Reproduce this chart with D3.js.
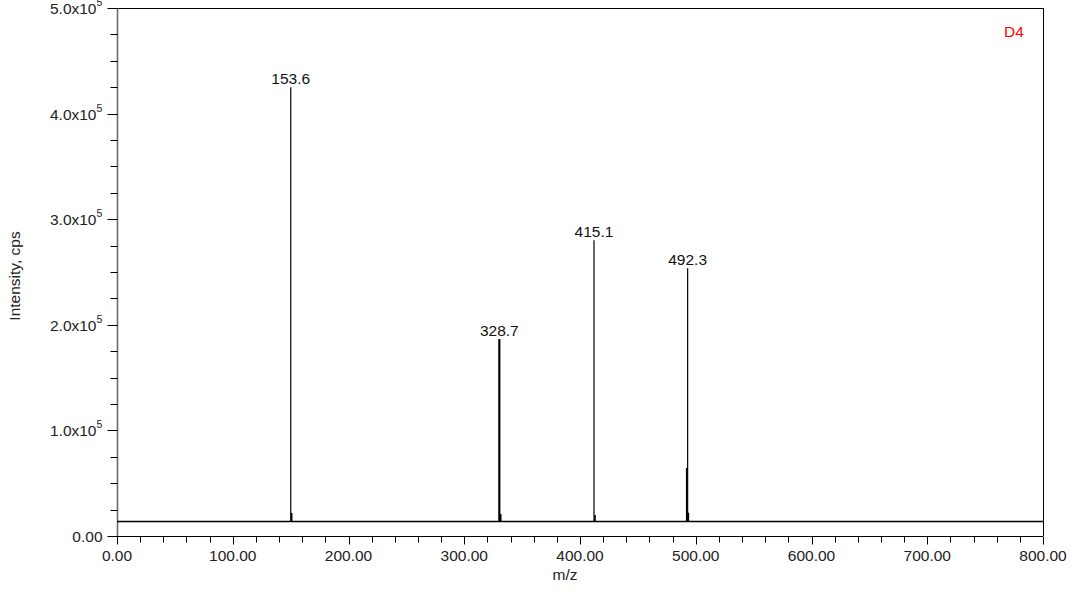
<!DOCTYPE html>
<html><head><meta charset="utf-8">
<script src="https://cdn.jsdelivr.net/npm/d3@7"></script>
<style>body{margin:0;background:#fff;} text{font-family:"Liberation Sans",Arial,sans-serif;}</style>
</head><body><svg id="c" width="1087" height="593"></svg>
<script>
// Main peaks (m/z position as drawn, intensity in cps) and their labels
const peakMz = [150.1, 330.3, 412.1, 493.0];
const peakIntensity = [425000, 186500, 280000, 253500];
const peakLabels = ["153.6", "328.7", "415.1", "492.3"];
// Small shoulder peaks near the main ones
const minorMz = [150.9, 331.5, 413.0, 492.2, 493.6];
const minorIntensity = [21800, 20800, 19900, 64400, 22000];
const baselineIntensity = 14200;
const xTicks = [0, 100, 200, 300, 400, 500, 600, 700, 800];
const yTicks = [0, 100000, 200000, 300000, 400000, 500000];
const yTickLabels = ["0.00", "1.0x10", "2.0x10", "3.0x10", "4.0x10", "5.0x10"];
const sampleName = "D4";

const svg = d3.select("#c");
const L = 117, R = 1043, T = 8, B = 536;
const FS = 15.5;
const x = d3.scaleLinear().domain([0, 800]).range([L, R]);
const y = d3.scaleLinear().domain([0, 500000]).range([B, T]);

// frame top/right
svg.append("line").attr("x1", L).attr("x2", R).attr("y1", T + 0.5).attr("y2", T + 0.5).attr("stroke", "#000");
svg.append("line").attr("x1", R + 0.5).attr("x2", R + 0.5).attr("y1", T).attr("y2", B).attr("stroke", "#000");

// x axis
const xa = svg.append("g").attr("transform", `translate(0,${B + 0.5})`);
xa.append("line").attr("x1", L).attr("x2", R).attr("stroke", "#000");
d3.range(0, 801, 20).forEach(v => {
  const major = v % 100 === 0;
  xa.append("line").attr("x1", Math.round(x(v)) + 0.5).attr("x2", Math.round(x(v)) + 0.5)
    .attr("y1", 0).attr("y2", major ? 8 : 6).attr("stroke", "#000");
});
xa.selectAll("text.xt").data(xTicks).enter().append("text").attr("class", "xt")
  .attr("x", d => x(d)).attr("y", 24.5).attr("text-anchor", "middle")
  .attr("font-size", FS).attr("fill", "#222").text(d => d3.format(".2f")(d));

// y axis
const ya = svg.append("g").attr("transform", `translate(${L + 0.5},0)`);
ya.append("line").attr("y1", T).attr("y2", B).attr("stroke", "#666").attr("stroke-width", 1.5);
d3.range(0, 500001, 25000).forEach(v => {
  const major = v % 100000 === 0;
  ya.append("line").attr("y1", Math.round(y(v)) + 0.5).attr("y2", Math.round(y(v)) + 0.5)
    .attr("x1", major ? -10 : -7).attr("x2", 0).attr("stroke", "#000");
});
yTicks.forEach((v, i) => {
  ya.append("text").attr("x", v === 0 ? -15 : -21).attr("y", y(v) + 6)
    .attr("text-anchor", "end").attr("font-size", FS).attr("fill", "#222").text(yTickLabels[i]);
  if (v !== 0) {
    ya.append("text").attr("x", -21).attr("y", y(v) - 2).attr("font-size", 10.5)
      .attr("fill", "#222").text("5");
  }
});

// axis titles
svg.append("text").attr("x", 565).attr("y", 580).attr("text-anchor", "middle")
  .attr("font-size", FS).attr("fill", "#222").text("m/z");
svg.append("text").attr("transform", `translate(20,${(T + B) / 2 + 4}) rotate(-90)`)
  .attr("text-anchor", "middle").attr("font-size", FS).attr("fill", "#222").text("Intensity, cps");

// baseline
svg.append("line").attr("x1", L).attr("x2", R)
  .attr("y1", Math.round(y(baselineIntensity)) + 0.5).attr("y2", Math.round(y(baselineIntensity)) + 0.5)
  .attr("stroke", "#000").attr("stroke-width", 1.3);

// minor peaks
svg.selectAll("line.minor").data(minorMz).enter().append("line").attr("class", "minor")
  .attr("x1", d => x(d)).attr("x2", d => x(d))
  .attr("y1", y(baselineIntensity)).attr("y2", (d, i) => y(minorIntensity[i]))
  .attr("stroke", "#000").attr("stroke-width", 1.6);

// main peaks
const pw = [1.2, 2.2, 1.2, 1.2];
svg.selectAll("line.peak").data(peakMz).enter().append("line").attr("class", "peak")
  .attr("x1", d => x(d)).attr("x2", d => x(d))
  .attr("y1", y(baselineIntensity)).attr("y2", (d, i) => y(peakIntensity[i]))
  .attr("stroke", "#000").attr("stroke-width", (d, i) => pw[i]);
svg.selectAll("text.pl").data(peakMz).enter().append("text").attr("class", "pl")
  .attr("x", d => x(d)).attr("y", (d, i) => y(peakIntensity[i]) - 3)
  .attr("text-anchor", "middle").attr("font-size", FS).attr("fill", "#111")
  .text((d, i) => peakLabels[i]);

// sample label
svg.append("text").attr("x", 1014).attr("y", 37).attr("text-anchor", "middle")
  .attr("font-size", FS).attr("fill", "#ff0000").text(sampleName);
</script></body></html>
